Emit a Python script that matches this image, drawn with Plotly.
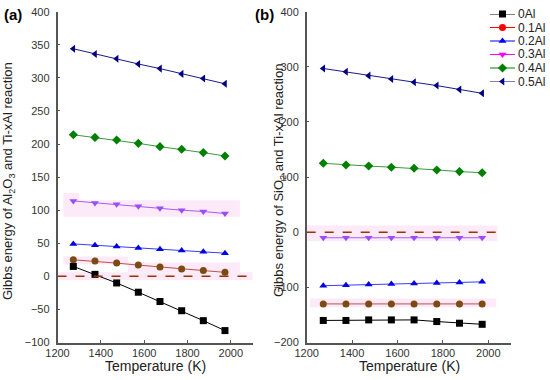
import plotly.graph_objects as go

temps = [1273, 1373, 1473, 1573, 1673, 1773, 1873, 1973]
series_names = ["0Al", "0.1Al", "0.2Al", "0.3Al", "0.4Al", "0.5Al"]

al2o3 = {
    "0Al":   [15, 3, -10, -24, -38, -52, -67, -82],
    "0.1Al": [25, 23, 20, 17, 14, 11, 9, 6],
    "0.2Al": [49, 47, 45, 43, 41, 39, 37, 35],
    "0.3Al": [114, 111, 109, 106, 103, 100, 98, 95],
    "0.4Al": [214, 210, 206, 201, 196, 192, 187, 182],
    "0.5Al": [344, 336, 329, 321, 314, 306, 299, 291],
}
sio2 = {
    "0Al":   [-160, -160, -159, -159, -159, -162, -165, -167],
    "0.1Al": [-130, -130, -130, -130, -130, -130, -130, -130],
    "0.2Al": [-97, -96, -95, -94, -93, -92, -91, -90],
    "0.3Al": [-10, -10, -10, -10, -10, -10, -10, -10],
    "0.4Al": [125, 122, 120, 118, 116, 113, 110, 108],
    "0.5Al": [297, 291, 284, 278, 272, 266, 259, 252],
}

line_colors = ["#000000", "#c0504d", "#3a3aff", "#a85cf5", "#3a9a3a", "#1a1a8a"]
marker_colors = ["#000000", "#7d4a14", "#0000e6", "#9a4dff", "#008000", "#000080"]
legend_colors = ["#000000", "#ff0000", "#0000ff", "#ff00ff", "#008000", "#000080"]
symbols = ["square", "circle", "triangle-up", "triangle-down", "diamond", "triangle-left"]

W, H = 550, 380


def px(x):
    return x / W


def py(y):
    return 1 - y / H


fig = go.Figure()

for i, name in enumerate(series_names):
    for data, xa, ya in [(al2o3, "x", "y"), (sio2, "x2", "y2")]:
        fig.add_trace(go.Scatter(
            x=temps, y=data[name], mode="lines+markers", xaxis=xa, yaxis=ya,
            line=dict(color=line_colors[i], width=1),
            marker=dict(symbol=symbols[i], size=7, color=marker_colors[i]),
            showlegend=False, cliponaxis=False))

# manual legend samples on a helper axis
for i, name in enumerate(series_names):
    fig.add_trace(go.Scatter(
        x=[0, 0.5, 1], y=[i, i, i], mode="lines", xaxis="x3", yaxis="y3",
        line=dict(color=legend_colors[i], width=1), showlegend=False,
        hoverinfo="skip", cliponaxis=False))
    fig.add_trace(go.Scatter(
        x=[0.5], y=[i], mode="markers", xaxis="x3", yaxis="y3",
        marker=dict(symbol=symbols[i], size=7, color=legend_colors[i]),
        showlegend=False, hoverinfo="skip", cliponaxis=False))
    fig.add_annotation(x=px(516), y=py(14 + i * 13.5), xref="paper", yref="paper",
                       text=name, showarrow=False, xanchor="left", yanchor="middle",
                       font=dict(size=12, color="#222222"))

pink = "#fdeaf8"
bands_a = [(1227, 1300, 112, 126), (1227, 2042, 90, 115), (1227, 1525, 18, 30),
           (1525, 2042, 6, 21), (1195, 2105, -6, 6)]
bands_b = [(1200, 2040, -16, 12), (1215, 2035, -136, -120)]
shapes = []
for x0, x1, y0, y1 in bands_a:
    shapes.append(dict(type="rect", xref="x", yref="y", x0=x0, x1=x1, y0=y0, y1=y1,
                       fillcolor=pink, line=dict(width=0), layer="below"))
for x0, x1, y0, y1 in bands_b:
    shapes.append(dict(type="rect", xref="x2", yref="y2", x0=x0, x1=x1, y0=y0, y1=y1,
                       fillcolor=pink, line=dict(width=0), layer="below"))
shapes.append(dict(type="line", xref="x", yref="y", x0=1200, x1=2075, y0=0, y1=0,
                   line=dict(color="#993300", width=1.5, dash="dash")))
shapes.append(dict(type="line", xref="x2", yref="y2", x0=1200, x1=2040, y0=0, y1=0,
                   line=dict(color="#993300", width=1.5, dash="dash")))

axis_common = dict(showline=True, linecolor="#555555", linewidth=1.5, ticks="inside",
                   ticklen=3, tickcolor="#555555", showgrid=False, zeroline=False,
                   tickfont=dict(size=11, color="#333333"), mirror=False, automargin=False)

ydom = [py(342.5), py(11.7)]

fig.update_layout(
    width=W, height=H, margin=dict(l=0, r=0, t=0, b=0, autoexpand=False),
    paper_bgcolor="white", plot_bgcolor="white",
    font=dict(family="Liberation Sans, Arial, sans-serif"),
    shapes=shapes,
    xaxis=dict(domain=[px(57.5), px(252.5)], range=[1200, 2100], tickvals=[1200, 1400, 1600, 1800, 2000],
               anchor="y", **axis_common),
    yaxis=dict(domain=ydom, range=[-100, 400], tickvals=list(range(-100, 401, 50)),
               anchor="x", ticklabelstandoff=4, **axis_common),
    xaxis2=dict(domain=[px(306.7), px(511)], range=[1200, 2100], tickvals=[1200, 1400, 1600, 1800, 2000],
                anchor="y2", **axis_common),
    yaxis2=dict(domain=ydom, range=[-200, 400], tickvals=list(range(-200, 401, 100)),
                anchor="x2", ticklabelstandoff=4, **axis_common),
    xaxis3=dict(domain=[px(490), px(515)], range=[0, 1], visible=False, anchor="y3", automargin=False),
    yaxis3=dict(domain=[py(14 + 5 * 13.5), py(14)], range=[5, 0], visible=False, anchor="x3", automargin=False),
)

# axis titles and panel labels
ann = dict(xref="paper", yref="paper", showarrow=False, xanchor="center", yanchor="middle")
fig.add_annotation(x=px(155), y=py(366), text="Temperature (K)",
                   font=dict(size=14, color="#222222"), **ann)
fig.add_annotation(x=px(409), y=py(366), text="Temperature (K)",
                   font=dict(size=14, color="#222222"), **ann)
fig.add_annotation(x=px(8), y=py(181), textangle=-90,
                   text="Gibbs energy of Al<sub>2</sub>O<sub>3</sub> and Ti-xAl reaction",
                   font=dict(size=13, color="#222222"), **ann)
fig.add_annotation(x=px(279), y=py(181), textangle=-90,
                   text="Gibbs energy of SiO<sub>2</sub> and Ti-xAl reaction",
                   font=dict(size=13, color="#222222"), **ann)
fig.add_annotation(x=px(13), y=py(14), text="<b>(a)</b>",
                   font=dict(size=15, color="#000000"), **ann)
fig.add_annotation(x=px(264), y=py(14), text="<b>(b)</b>",
                   font=dict(size=15, color="#000000"), **ann)

fig.write_html("out.html", config={"displayModeBar": False},
               post_script="document.body.style.margin='0';document.body.style.overflow='hidden';")
